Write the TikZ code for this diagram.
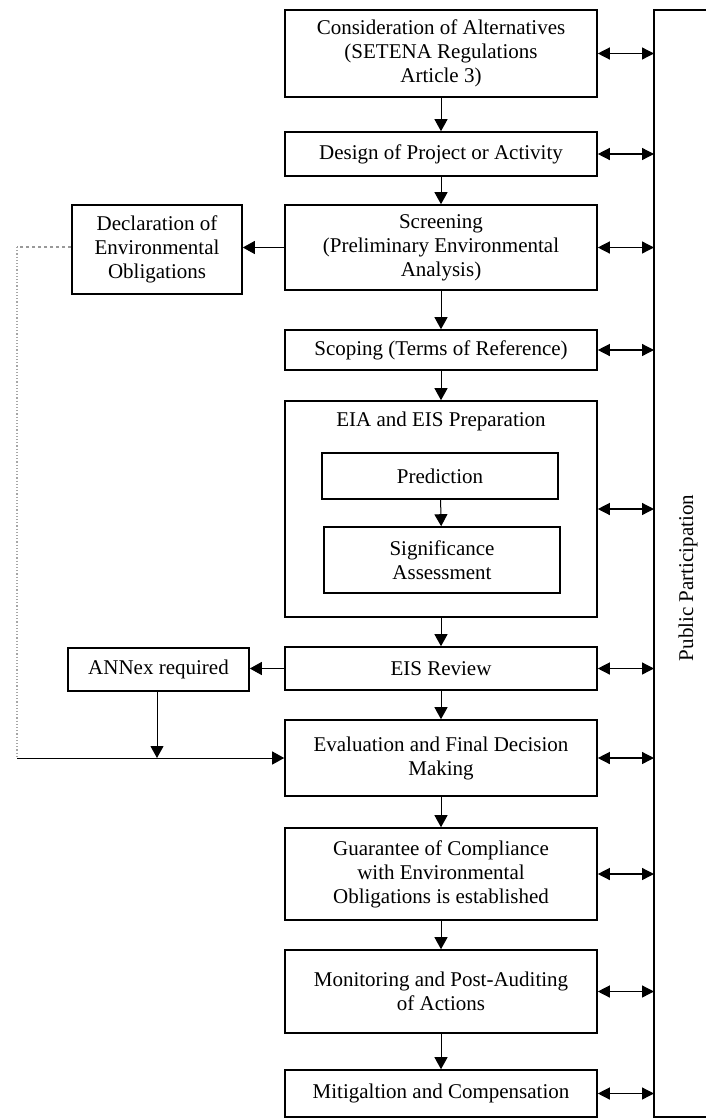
\documentclass[tikz,border=0pt]{standalone}
\usepackage{fontspec}
\setmainfont{Liberation Serif}
\usetikzlibrary{arrows.meta,calc}
\begin{document}
\begin{tikzpicture}[x=1pt,y=-1pt,
  box/.style={draw, line width=1.6pt, align=center, inner sep=0pt,
    font=\fontsize{21}{24}\selectfont, text=black},
  flow/.style={line width=1pt, -{Triangle[length=12pt,width=13pt]}},
  both/.style={line width=1.3pt, {Triangle[length=12pt,width=12pt]}-{Triangle[length=12pt,width=12pt]}},
  dots/.style={line width=1.2pt, gray!70, dotted},
]
\useasboundingbox (0,0) rectangle (706,1120);

% main column
\node[box, minimum width=312pt, minimum height=87pt] (n1) at (441,53.5)
  {Consideration of Alternatives\\(SETENA Regulations\\Article 3)};
\node[box, minimum width=312pt, minimum height=44pt] (n2) at (441,154)
  {Design of Project or Activity};
\node[box, minimum width=312pt, minimum height=85pt] (n3) at (441,247.5)
  {Screening\\(Preliminary Environmental\\Analysis)};
\node[box, minimum width=312pt, minimum height=40pt] (n4) at (441,350)
  {Scoping (Terms of Reference)};
\node[box, minimum width=312pt, minimum height=216pt] (n5) at (441,509) {};
\node[font=\fontsize{21}{24}\selectfont] (n5t) at (441,421) {EIA and EIS Preparation};
\node[box, minimum width=236pt, minimum height=46pt] (pred) at (440,476) {Prediction};
\node[box, minimum width=236pt, minimum height=66pt] (sig) at (442,560)
  {Significance\\Assessment};
\node[box, minimum width=312pt, minimum height=43pt] (n6) at (441,668.5) {EIS Review};
\node[box, minimum width=312pt, minimum height=76pt] (n7) at (441,758)
  {Evaluation and Final Decision\\Making};
\node[box, minimum width=312pt, minimum height=92pt] (n8) at (441,874)
  {Guarantee of Compliance\\with Environmental\\Obligations is established};
\node[box, minimum width=312pt, minimum height=83pt] (n9) at (441,991.5)
  {Monitoring and Post-Auditing\\of Actions};
\node[box, minimum width=312pt, minimum height=47pt] (n10) at (441,1093.5)
  {Mitigaltion and Compensation};

% side boxes
\node[box, minimum width=170pt, minimum height=89pt] (decl) at (157,249.5)
  {Declaration of\\Environmental\\Obligations};
\node[box, minimum width=181pt, minimum height=43pt] (annex) at (158.5,669.5)
  {ANNex required};

% vertical flow
\draw[flow] (n1) -- (n2);
\draw[flow] (n2) -- (n3);
\draw[flow] (n3) -- (n4);
\draw[flow] (n4) -- (n5);
\draw[flow] (pred) -- (sig);
\draw[flow] (n5) -- (n6);
\draw[flow] (n6) -- (n7);
\draw[flow] (n7) -- (n8);
\draw[flow] (n8) -- (n9);
\draw[flow] (n9) -- (n10);

% side flows
\draw[flow] (n3.west) -- (decl.east |- n3.west);
\draw[flow] (n6.west) -- (annex.east |- n6.west);
\coordinate (c1) at (17,247);
\coordinate (c2) at (17,758);
\coordinate (c3) at (157,758);
\draw[line width=1.2pt, gray!80, dashed] (decl.west |- c1) -- (c1);
\draw[dots] (c1) -- (c2);
\draw[flow] (c2) -- (n7.west |- c2);
\draw[flow] (annex.south -| c3) -- (c3);

% public participation
\coordinate (pt) at (706,10);
\coordinate (pa) at (654,10);
\coordinate (pb) at (654,1117);
\coordinate (pe) at (706,1117);
\draw[line width=1.6pt] (pt) -- (pa) -- (pb) -- (pe);
\node[rotate=90, font=\fontsize{21}{24}\selectfont] (pp) at (688,578) {Public Participation};
\foreach \n in {n1,n2,n3,n4,n5,n6,n7,n8,n9,n10}
  \draw[both] (\n.east) -- (\n.east -| pa);
\end{tikzpicture}
\end{document}
